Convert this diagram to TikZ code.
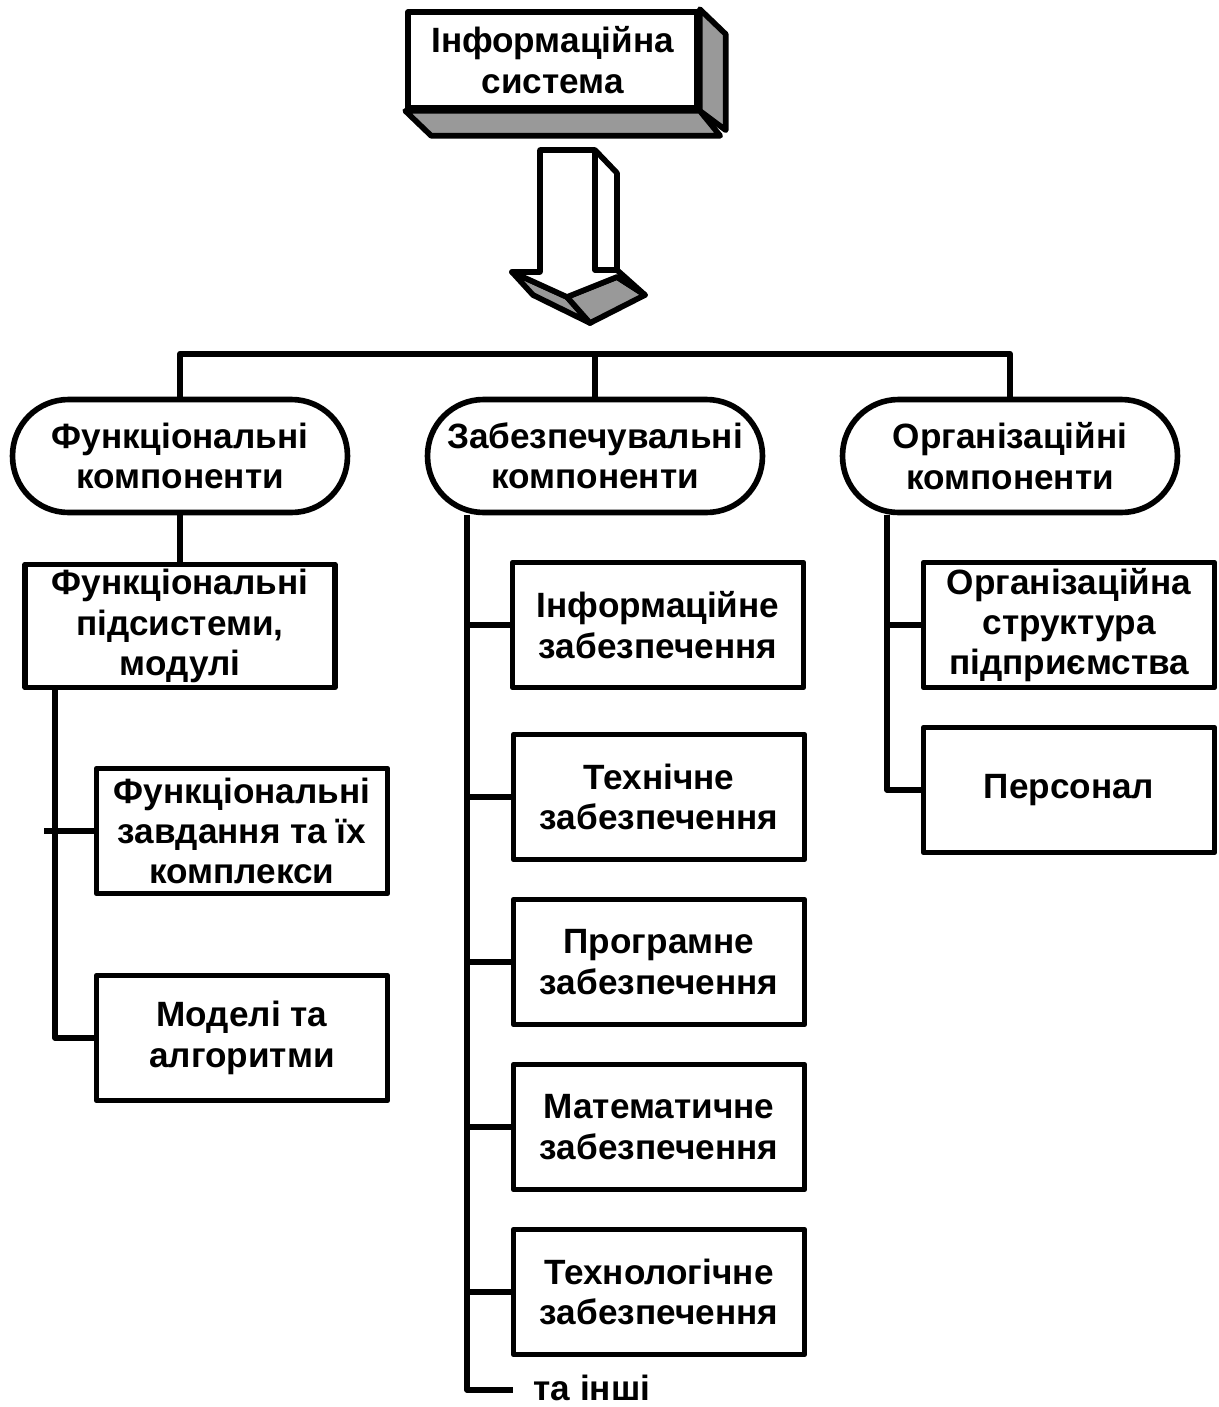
\documentclass[tikz,border=0pt]{standalone}
\usepackage{fontspec}
\setmainfont{Liberation Sans}
\usetikzlibrary{calc}
\definecolor{sidegray}{gray}{0.6}
\tikzset{
  blk/.style={draw, line width=3.2pt, line join=round, fill=white, minimum width=5.82cm,
    minimum height=2.5cm, align=center, inner sep=0pt,
    font=\bfseries\fontsize{20}{23}\selectfont},
  pill/.style={blk, rounded corners=1.12cm, minimum width=6.7cm, minimum height=2.26cm},
  conn/.style={line width=3.2pt, line join=round},
}
\begin{document}
\begin{tikzpicture}[x=0.02cm, y=-0.02cm]
  \useasboundingbox (0,0) rectangle (1218,1407);
  % top block, drawn in 3D
  \node[blk, minimum width=5.78cm, minimum height=1.92cm] (is) at (552.5,60) {Інформаційна\\система};
  \draw[conn, fill=sidegray] (is.north east) -- ++(26,25) -- ++(0,96) -- (is.south east) -- cycle;
  \draw[conn, fill=sidegray] (is.south west) -- ++(26,25) -- ++(289,0) -- (is.south east) -- cycle;
  % down arrow
  \draw[conn, fill=sidegray] (512,272) -- (567,297) -- (590,323) -- (533,295) -- cycle;
  \draw[conn, fill=sidegray] (567,297) -- (617,277) -- (645,295) -- (590,323) -- cycle;
  \draw[conn, fill=white] (540,150) -- (595,150) -- (617,173) -- (617,270) -- (645,295)
    -- (617,277) -- (567,297) -- (512,272) -- (540,272) -- cycle;
  \draw[conn] (595,150) -- (595,270) -- (617,270);
  % components
  \node[pill] (fun) at (180,456) {Функціональні\\компоненти};
  \node[pill] (sup) at (595,456) {Забезпечувальні\\компоненти};
  \node[pill] (org) at (1010,456) {Організаційні\\компоненти};
  \draw[conn] (fun.north) -- ++(0,-43) -| (org.north);
  \draw[conn] (sup.north) -- ++(0,-43);
  % functional
  \node[blk, minimum width=6.2cm, minimum height=2.46cm] (fsub) at (180,626) {Функціональні\\підсистеми,\\модулі};
  \node[blk] (tasks) at (242,831) {Функціональні\\завдання та їх\\комплекси};
  \node[blk] (models) at (242,1038) {Моделі та\\алгоритми};
  \coordinate (lx) at (55,0);
  \draw[conn] (fun.south) -- (fsub.north);
  \draw[conn] (lx |- fsub.south) |- (models.west);
  \draw[conn] (tasks.west) -- ++(-50,0);
  % supporting
  \node[blk] (info) at (658,625) {Інформаційне\\забезпечення};
  \node[blk] (tech) at (659,797) {Технічне\\забезпечення};
  \node[blk] (prog) at (659,962) {Програмне\\забезпечення};
  \node[blk] (math) at (659,1127) {Математичне\\забезпечення};
  \node[blk] (techl) at (659,1292) {Технологічне\\забезпечення};
  \node[inner sep=0pt, font=\bfseries\fontsize{20}{23}\selectfont] (others) at (592,1388) {та інші};
  \coordinate (cx) at (467,0);
  \draw[conn] (cx |- sup.south) |- ($(others.west)+(-20,2)$);
  \foreach \n in {info,tech,prog,math,techl}
    \draw[conn] (cx |- \n.west) -- (\n.west);
  % organisational
  \node[blk] (orgs) at (1069,625) {Організаційна\\структура\\підприємства};
  \node[blk] (pers) at (1069,790) {Персонал};
  \coordinate (rx) at (887,0);
  \draw[conn] (rx |- org.south) |- (pers.west);
  \draw[conn] (rx |- orgs.west) -- (orgs.west);
\end{tikzpicture}
\end{document}
